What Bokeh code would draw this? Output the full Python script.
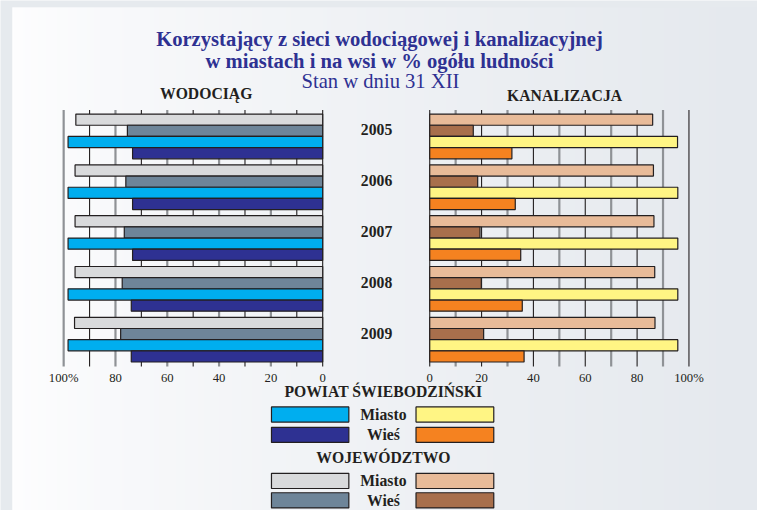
import numpy as np
from bokeh.plotting import figure
from bokeh.models import Range1d, LinearAxis, FixedTicker
from bokeh.core.properties import value
from bokeh.embed import file_html
from bokeh.resources import INLINE

# ---------------- data ----------------
years = ["2005", "2006", "2007", "2008", "2009"]
# WODOCIĄG (water supply), % of population
wod_woj_miasto = [95.3, 95.6, 95.6, 95.6, 95.8]
wod_woj_wies = [75.4, 76.0, 76.6, 77.4, 78.0]
wod_pow_miasto = [98.3, 98.3, 98.3, 98.3, 98.3]
wod_pow_wies = [73.4, 73.4, 73.4, 73.9, 73.9]
# KANALIZACJA (sewage), % of population
kan_woj_miasto = [86.0, 86.3, 86.5, 86.8, 86.9]
kan_woj_wies = [16.8, 18.5, 19.4, 19.9, 20.8]
kan_pow_miasto = [95.6, 95.7, 95.7, 95.7, 95.7]
kan_pow_wies = [31.7, 33.0, 35.1, 35.7, 36.4]

axis_ticks = [0, 20, 40, 60, 80, 100]
grid_ticks = list(range(0, 101, 10))

title_lines = ["Korzystający z sieci wodociągowej i kanalizacyjnej",
               "w miastach i na wsi w % ogółu ludności"]
subtitle = "Stan w dniu 31 XII"
panel_titles = ["WODOCIĄG", "KANALIZACJA"]
legend_groups = ["POWIAT ŚWIEBODZIŃSKI", "WOJEWÓDZTWO"]
legend_rows = ["Miasto", "Wieś"]

# ---------------- colours ----------------
C_WOJ_M_W, C_WOJ_W_W = "#d9dadc", "#6e8599"
C_POW_M_W, C_POW_W_W = "#00aeef", "#2e3192"
C_WOJ_M_K, C_WOJ_W_K = "#e8bb99", "#a86f4c"
C_POW_M_K, C_POW_W_K = "#fff584", "#f58220"
EDGE = "#231f20"
TITLE_C = "#2e3192"
SERIF = value("Liberation Serif")

# ---------------- layout ----------------
# the figure's frame spans a 773 x 526 design space
DW, DH = 773, 526
W, H = 757, 510
FS = W / DW  # font scale
L0, L100 = 329.0, 64.5      # left panel: x of 0 and 100
R0, R100 = 438.3, 703.0     # right panel: x of 0 and 100
YTOP, YBOT = 114.0, 376.0   # bar area
NG = len(years)
GH = (YBOT - YTOP) / NG

kL = (L0 - L100) / 100.0
kR = (R100 - R0) / 100.0


def fpx(v):
    return "%.1fpx" % (v * FS)


p = figure(width=W, height=H, output_backend="svg", toolbar_location=None,
           x_range=Range1d(0, DW), y_range=Range1d(DH, 0),
           x_axis_type=None, y_axis_type=None, min_border=0,
           outline_line_color=None)
p.background_fill_color = "#e6eaee"
p.border_fill_color = "#e6eaee"

p.extra_x_ranges = {
    "wod": Range1d(start=L0 / kL, end=(L0 - DW) / kL),
    "kan": Range1d(start=-R0 / kR, end=(DW - R0) / kR),
}
p.extra_y_ranges = {
    "yrs": Range1d(start=(DH - YTOP) / GH - 0.5, end=(0 - YTOP) / GH - 0.5),
}

# background gradient panel
n = 400
xs = np.linspace(0, 1, n)
t = xs ** 0.75
c0 = np.array([254, 254, 255])
c1 = np.array([229, 233, 238])
img = np.zeros((1, n), dtype=np.uint32)
view = img.view(dtype=np.uint8).reshape((1, n, 4))
for k in range(3):
    view[0, :, k] = (c0[k] + (c1[k] - c0[k]) * t).astype(np.uint8)
view[0, :, 3] = 255
p.image_rgba(image=[img], x=12, y=7, dw=DW - 12, dh=DH - 7)

# grid lines
GY0, GY1 = 113, 377.5
left_dark = [g for g in grid_ticks if g % 20 == 10] + [0]
left_gray = [g for g in grid_ticks if g % 20 == 0 and g > 0]
right_dark = [g for g in grid_ticks if g % 20 == 0]
right_gray = [g for g in grid_ticks if g % 20 == 10]
for ticks, rng, col, lw in [(left_gray, "wod", "#8f9296", 2.2), (left_dark, "wod", EDGE, 1.1),
                            (right_gray, "kan", "#8f9296", 2.2), (right_dark, "kan", EDGE, 1.1)]:
    p.segment(x0=ticks, x1=ticks, y0=[GY0] * len(ticks), y1=[GY1] * len(ticks),
              line_color=col, line_width=lw, x_range_name=rng)

# bars
idx = np.arange(NG)
BH = 0.22
offs = [-1.5 * BH, -0.5 * BH, 0.5 * BH, 1.5 * BH]
for vals, col, o in [(wod_woj_miasto, C_WOJ_M_W, offs[0]), (wod_woj_wies, C_WOJ_W_W, offs[1]),
                     (wod_pow_miasto, C_POW_M_W, offs[2]), (wod_pow_wies, C_POW_W_W, offs[3])]:
    p.hbar(y=idx + o, left=0, right=vals, height=BH, fill_color=col,
           line_color=EDGE, line_width=1.2, x_range_name="wod", y_range_name="yrs")
for vals, col, o in [(kan_woj_miasto, C_WOJ_M_K, offs[0]), (kan_woj_wies, C_WOJ_W_K, offs[1]),
                     (kan_pow_miasto, C_POW_M_K, offs[2]), (kan_pow_wies, C_POW_W_K, offs[3])]:
    p.hbar(y=idx + o, left=0, right=vals, height=BH, fill_color=col,
           line_color=EDGE, line_width=1.2, x_range_name="kan", y_range_name="yrs")

# year labels
p.text(x=384, y=idx - 0.13, text=years, text_font=SERIF, text_font_style="bold",
       text_font_size=fpx(16), text_align="center", text_baseline="middle",
       text_color=EDGE, y_range_name="yrs")

# axes
for rng in ["wod", "kan"]:
    ax = LinearAxis(x_range_name=rng, fixed_location=GY1, bounds=(0, 100),
                    ticker=FixedTicker(ticks=axis_ticks),
                    major_label_overrides={100: "100%"})
    ax.axis_line_color = None
    ax.major_tick_line_color = None
    ax.minor_tick_line_color = None
    ax.major_tick_out = 0
    ax.major_label_standoff = 4
    ax.major_label_text_font = "Liberation Serif"
    ax.major_label_text_font_size = fpx(13)
    ax.major_label_text_color = EDGE
    p.add_layout(ax, "below")

# titles
p.text(x=[387, 387], y=[40, 62], text=title_lines, text_font=SERIF, text_font_style="bold",
       text_font_size=fpx(21), text_align="center", text_baseline="alphabetic", text_color=TITLE_C)
p.text(x=[388], y=[83], text=[subtitle], text_font=SERIF, text_font_size=fpx(21),
       text_align="center", text_baseline="alphabetic", text_color=TITLE_C)
p.text(x=[210, 576], y=[96, 98], text=panel_titles, text_font=SERIF, text_font_style="bold",
       text_font_size=fpx(16), text_align="center", text_baseline="middle", text_color=EDGE)

# legend
p.text(x=[391, 391], y=[403, 471.5], text=legend_groups, text_font=SERIF, text_font_style="bold",
       text_font_size=fpx(16), text_align="center", text_baseline="middle", text_color=EDGE)
row_y = [427, 448, 495.5, 515.5]
row_lbl = legend_rows + legend_rows
left_cols = [C_POW_M_W, C_POW_W_W, C_WOJ_M_W, C_WOJ_W_W]
right_cols = [C_POW_M_K, C_POW_W_K, C_WOJ_M_K, C_WOJ_W_K]
p.text(x=[391] * 4, y=row_y, text=row_lbl, text_font=SERIF, text_font_style="bold",
       text_font_size=fpx(16), text_align="center", text_baseline="middle", text_color=EDGE)
ry = np.array(row_y)
p.quad(left=276.7, right=355.7, top=ry - 7.8, bottom=ry + 7.8, fill_color=left_cols,
       line_color=EDGE, line_width=1.2)
p.quad(left=424.3, right=503.7, top=ry - 7.8, bottom=ry + 7.8, fill_color=right_cols,
       line_color=EDGE, line_width=1.2)

open("out.html", "w").write(file_html(p, INLINE))
